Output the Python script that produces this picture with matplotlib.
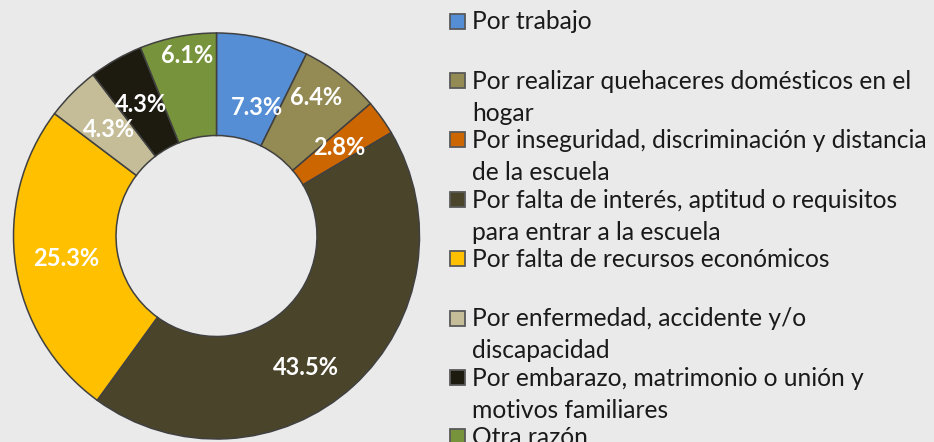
import matplotlib
matplotlib.use("Agg")
import matplotlib.pyplot as plt
from matplotlib.patches import Rectangle
import numpy as np

categories = [
    "Por trabajo",
    "Por realizar quehaceres domésticos en el\nhogar",
    "Por inseguridad, discriminación y distancia\nde la escuela",
    "Por falta de interés, aptitud o requisitos\npara entrar a la escuela",
    "Por falta de recursos económicos",
    "Por enfermedad, accidente y/o\ndiscapacidad",
    "Por embarazo, matrimonio o unión y\nmotivos familiares",
    "Otra razón",
]
values = [7.3, 6.4, 2.8, 43.5, 25.3, 4.3, 4.3, 6.1]
colors = ["#558ED5", "#948A54", "#CC6600", "#4A452A",
          "#FFC000", "#C4BD97", "#1D1B10", "#77933C"]
# label nudges in pixels (style only)
label_nudges = [(6, -19), (7, 19), (0, 0), (-13, -19),
                (0, 0), (0, 0), (0, 0), (0, 32)]

W, H, DPI = 934, 442, 100
BG = "#EAEAEA"
fig = plt.figure(figsize=(W / DPI, H / DPI), dpi=DPI, facecolor=BG)

cx, cy, R = 216.5, H - 236, 203
ax = fig.add_axes([(cx - R) / W, (cy - R) / H, 2 * R / W, 2 * R / H])
ax.set_facecolor(BG)
wedges, _ = ax.pie(values, startangle=90, counterclock=False, colors=colors,
                   radius=1.0,
                   wedgeprops=dict(width=0.505, edgecolor="#404040", linewidth=1.1))
for w in wedges:
    w.set_clip_on(False)
ax.set_xlim(-1, 1)
ax.set_ylim(-1, 1)
ax.axis("off")

for w, v, (nx, ny) in zip(wedges, values, label_nudges):
    ang = np.deg2rad((w.theta1 + w.theta2) / 2)
    r = 0.747
    ax.annotate(f"{v:.1f}%", xy=(r * np.cos(ang), r * np.sin(ang)),
                xytext=(nx, ny), textcoords="offset pixels",
                ha="center", va="center", color="white",
                fontsize=17, fontweight="bold", family="Lato")

# legend drawn manually
entry_top = 21.0      # px centre of first square
entry_step = 59.4
line_step = 32.0
sq = 15.0
for i, (lab, col) in enumerate(zip(categories, colors)):
    yc = entry_top + i * entry_step
    fig.patches.append(Rectangle(((450) / W, (H - yc - sq / 2) / H), sq / W, sq / H,
                                 transform=fig.transFigure, facecolor=col,
                                 edgecolor="#595959", linewidth=1.3))
    for j, line in enumerate(lab.split("\n")):
        yb = yc + 8.3 + j * line_step
        fig.text(472 / W, (H - yb) / H, line, ha="left", va="baseline",
                 fontsize=17.7, family="Lato", color="#1a1a1a")

fig.savefig("out.png", dpi=DPI, facecolor=BG)
